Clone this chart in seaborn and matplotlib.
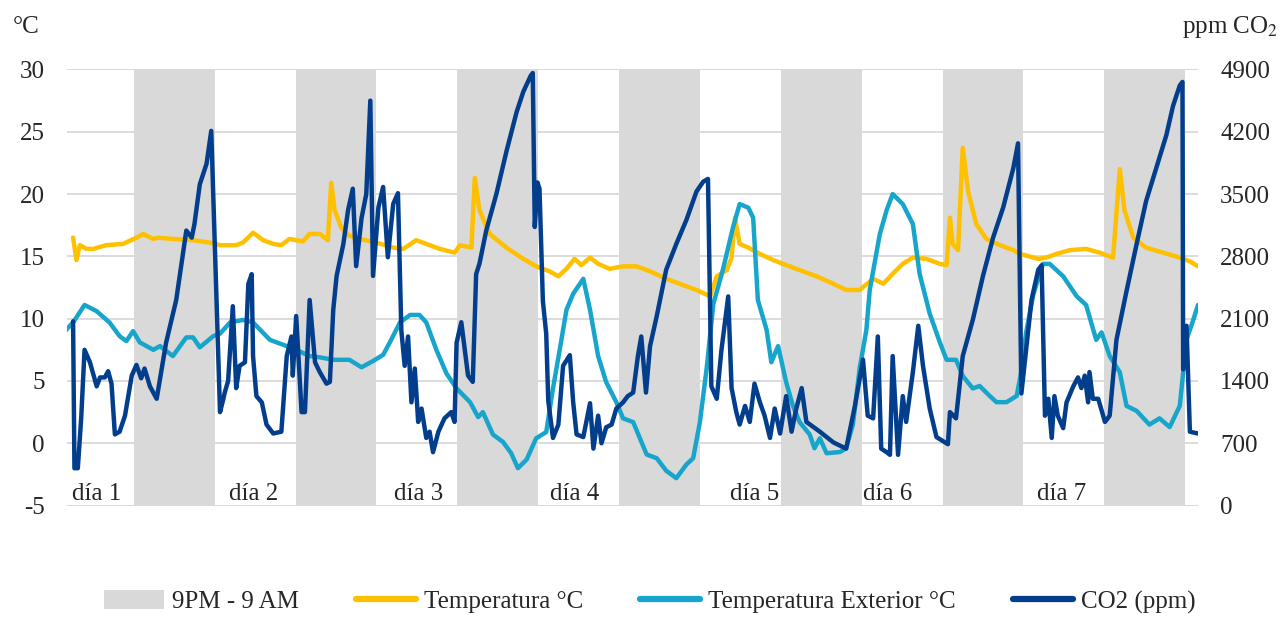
import matplotlib
matplotlib.use('Agg')
import matplotlib.pyplot as plt
import seaborn as sns
from matplotlib.patches import Patch
from matplotlib.lines import Line2D

# hours counted from 21:00 of day 1 (start of the first night band)
temp_hours = [-9.0, -8.5, -8.0, -7.0, -6.0, -4.1, -1.6, 0.4, 1.4, 2.9, 3.6, 5.8, 8.8, 11.3,
              12.8, 15.2, 16.2, 17.7, 19.2, 20.7, 21.9, 23.1, 25.1, 26.1, 27.6, 28.8, 29.3, 29.8,
              30.8, 31.8, 33.5, 36.0, 38.5, 40.0, 41.9, 43.9, 45.4, 47.6, 48.4, 50.1, 50.6, 51.3,
              52.8, 55.3, 57.8, 59.7, 61.7, 63.0, 64.2, 65.4, 66.4, 67.7, 68.9, 70.6, 72.6, 74.6,
              76.6, 79.0, 81.5, 83.5, 85.5, 86.5, 88.0, 88.7, 89.2, 89.9, 91.2, 92.9, 94.9, 96.8,
              98.8, 101.3, 103.8, 105.7, 107.7, 109.7, 111.2, 112.6, 114.1, 115.6, 117.6, 119.6,
              120.6, 121.1, 121.5, 122.3, 123.0, 123.8, 125.0, 126.5, 128.5, 130.5, 131.5, 134.2,
              135.4, 136.9, 138.9, 141.3, 143.3, 145.3, 146.3, 147.0, 148.3, 150.2, 152.7, 155.2,
              156.7, 157.9]
temp_vals = [16.5, 14.7, 15.9, 15.6, 15.6, 15.9, 16.0, 16.5, 16.8, 16.4, 16.5, 16.4, 16.3, 16.1,
             15.9, 15.9, 16.1, 16.9, 16.3, 16.0, 15.9, 16.4, 16.2, 16.8, 16.8, 16.3, 20.9, 18.7,
             17.3, 16.7, 16.4, 16.1, 15.7, 15.6, 16.3, 15.9, 15.6, 15.3, 15.9, 15.7, 21.3, 18.7,
             16.8, 15.7, 14.8, 14.2, 13.8, 13.4, 14.0, 14.8, 14.3, 14.9, 14.4, 14.0, 14.2, 14.2,
             13.8, 13.2, 12.7, 12.3, 11.8, 13.4, 13.9, 14.9, 18.1, 16.0, 15.7, 15.2, 14.7, 14.3,
             13.9, 13.4, 12.8, 12.3, 12.3, 13.2, 12.8, 13.6, 14.4, 14.9, 14.8, 14.4,
             14.3, 18.1, 16.0, 15.5, 23.7, 20.2, 17.6, 16.4, 15.9, 15.5, 15.2, 14.8,
             14.9, 15.2, 15.5, 15.6, 15.3, 14.9, 22.0, 18.7, 16.5, 15.7, 15.3, 14.9,
             14.6, 14.2]

ext_hours = [-10.2, -9.0, -7.3, -5.5, -3.6, -2.1, -1.1, -0.1, 0.9, 2.9, 3.9, 5.8, 7.8, 8.8, 9.8,
             11.8, 12.8, 14.3, 16.2, 17.7, 20.2, 22.2, 24.1, 26.1, 27.6, 29.6, 32.0, 33.8, 35.5,
             37.0, 38.0, 39.5, 41.0, 42.4, 43.4, 44.9, 46.4, 47.9, 49.9, 51.1, 51.8, 53.3, 54.8,
             56.0, 57.0, 58.3, 59.7, 61.2, 62.2, 63.2, 64.2, 65.2, 66.7, 67.7, 68.9, 70.1, 71.6,
             72.6, 74.1, 75.1, 76.1, 77.6, 79.0, 80.5, 82.0, 83.0, 84.0, 85.0, 86.0, 87.4, 88.9,
             89.9, 91.2, 91.9, 92.6, 93.9, 94.6, 95.6, 96.8, 97.8, 98.8, 100.3, 101.0, 101.8,
             102.8, 104.8, 105.7, 106.7, 107.7, 108.7, 109.2, 110.7, 111.7, 112.6, 114.1, 115.6,
             116.6, 118.1, 119.6, 120.6, 122.0, 123.0, 124.5, 125.5, 127.0, 128.0, 129.5, 131.0,
             131.6, 132.4, 133.5, 134.9, 135.9, 137.9, 139.9, 141.3, 142.8, 143.6, 144.8, 146.3,
             147.3, 148.8, 150.7, 152.2, 153.7, 155.2, 156.2, 157.2, 157.9]
ext_vals = [9.0, 9.7, 11.1, 10.6, 9.7, 8.6, 8.2, 9.0, 8.1, 7.5, 7.8, 7.0, 8.5, 8.5, 7.7,
            8.6, 8.8, 9.7, 9.9, 9.7, 8.3, 7.9, 7.5, 7.0, 6.9, 6.7, 6.7, 6.1, 6.6,
            7.1, 8.1, 9.7, 10.3, 10.3, 9.7, 7.5, 5.6, 4.4, 3.3, 2.1, 2.5, 0.7, 0.1,
            -0.8, -2.0, -1.3, 0.4, 0.9, 4.4, 7.5, 10.7, 12.0, 13.2, 10.7, 7.0, 4.9, 3.3,
            2.0, 1.7, 0.4, -0.9, -1.2, -2.2, -2.8, -1.7, -1.2, 1.7, 6.0, 11.2, 13.9, 17.3,
            19.2, 18.9, 18.1, 11.5, 9.1, 6.5, 7.8, 4.9, 3.0, 1.7, 0.7, -0.4, 0.4,
            -0.8, -0.7, -0.4, 1.5, 6.0, 9.1, 12.3, 16.8, 18.7, 20.0, 19.2, 17.6,
            13.6, 10.4, 8.1, 6.7, 6.7, 5.4, 4.4, 4.6, 3.8, 3.3, 3.3, 3.8,
            5.5, 8.9, 12.0, 14.4, 14.4, 13.4, 11.8, 11.1, 8.3, 8.9, 7.0, 5.7,
            3.0, 2.6, 1.5, 2.0, 1.3, 3.0, 8.3, 9.9, 11.1]

co2_hours = [-9.0, -8.8, -8.3, -7.8, -7.3, -6.5, -5.5, -5.0, -4.3, -3.8, -3.3, -2.8, -2.1, -1.3,
             -0.3, 0.4, 1.1, 1.6, 2.4, 3.4, 4.8, 6.3, 7.8, 8.6, 9.0, 9.8, 10.8, 11.5, 12.8, 13.3,
             13.5, 14.0, 14.7, 15.2, 15.7, 16.5, 17.0, 17.5, 17.7, 18.2, 19.0, 19.7, 20.7, 21.9,
             22.7, 23.4, 23.6, 24.1, 24.9, 25.4, 26.1, 26.9, 27.6, 28.6, 29.1, 29.6, 30.1, 31.1,
             31.8, 32.5, 33.0, 33.8, 34.5, 35.1, 35.5, 36.3, 37.0,
             37.7, 38.5, 39.2, 39.7, 40.2, 40.7, 41.2, 41.7, 42.2, 42.7, 43.4, 43.9, 44.4, 45.2,
             46.1, 47.1, 47.6, 47.9, 48.6, 49.6, 50.3, 50.8, 51.3, 52.3, 53.8, 55.3, 56.8, 57.8,
             58.9, 59.2, 59.5, 59.9, 60.2, 60.7, 61.2, 61.5, 62.2,
             63.0, 63.7, 64.7, 65.2, 65.7, 66.7, 67.7, 68.2, 68.9, 69.4, 70.1, 70.9, 71.6, 72.6,
             73.3, 74.1, 74.8, 75.3, 76.0, 76.6, 77.6, 79.0, 80.5, 82.0, 83.5, 84.5, 85.2,
             85.7, 86.5, 87.2, 88.2, 88.7, 89.4, 89.9, 90.7, 91.4, 92.1, 92.9, 93.6, 94.4, 95.1,
             95.9, 96.8, 97.6, 98.3, 99.1, 99.8, 101.8, 103.8, 105.7, 107.0, 108.2,
             108.9, 109.7, 110.4, 110.9, 111.7, 112.2, 112.6, 113.4, 114.1, 114.6, 115.6, 116.4,
             117.1, 118.1, 119.1, 120.8, 121.1, 122.0, 123.0, 124.5, 126.0, 127.5, 129.0, 130.5,
             131.2,
             131.7, 132.5, 133.2, 134.2, 134.7, 135.2, 135.7, 136.2, 136.6, 137.1, 137.9, 138.4,
             139.4, 140.1, 140.6, 141.1, 141.6, 141.8, 142.3, 143.1, 144.1, 144.8, 145.8, 147.3,
             148.8, 150.2, 151.7, 153.2, 154.2, 155.2, 155.6, 155.7, 156.2, 156.7, 157.9]
co2_vals = [2070, 420, 420, 980, 1750, 1610, 1340, 1440, 1440, 1510, 1370, 800, 830, 1010,
            1460, 1580, 1430, 1540, 1340, 1200, 1830, 2310, 3090, 3010, 3160, 3610, 3840, 4210, 1050, 1200,
            1270, 1400, 2240, 1320, 1570, 1610, 2490, 2600, 1680, 1230, 1160, 910, 810, 830,
            1680, 1900, 1460, 2130, 1050, 1050, 2310, 1610, 1500, 1370, 1390, 2200, 2580, 2940,
            3320, 3560, 2690, 3230, 3500, 4550, 2580, 3350, 3580,
            2790, 3390, 3510, 1970, 1570, 1900, 1160, 1540, 940, 1090, 760, 830, 600, 830,
            980, 1050, 940, 1830, 2060, 1460, 1390, 2600, 2720, 3090, 3500, 3980, 4420, 4650,
            4830, 4860, 3130, 3630, 3560, 2300, 1930, 1180, 760,
            910, 1570, 1690, 1160, 800, 770, 1150, 640, 1010, 700, 880, 910, 1090, 1160,
            1230, 1270, 1680, 1900, 1270, 1790, 2130, 2650, 2940, 3210, 3530, 3640, 3670,
            1340, 1200, 1750, 2350, 1320, 1050, 910, 1120, 940, 1370, 1160, 1010, 760, 1090,
            810, 1230, 830, 1090, 1320, 940, 830, 710, 640, 1120, 1640,
            1010, 980, 1900, 640, 600, 570, 1680, 570, 1230, 940, 1500, 2020,
            1570, 1090, 770, 690, 1050, 980, 1680, 2090, 2580, 3010, 3350, 3790,
            4070,
            1260, 1820, 2310, 2650, 2700, 1010, 1200, 760, 1230, 1010, 870, 1160,
            1340, 1440, 1320, 1460, 1160, 1500, 1200, 1200, 940, 1010, 1860, 2410,
            2940, 3420, 3790, 4160, 4490, 4720, 4760, 1530, 2020, 830, 810]

night_starts = [0, 24, 48, 72, 96, 120, 144]   # 9PM, each night lasts 12 h
day_labels = ['día 1', 'día 2', 'día 3', 'día 4', 'día 5', 'día 6', 'día 7']
day_label_hours = [-9.2, 14.2, 38.6, 61.7, 88.4, 108.2, 134.0]

GRAY = '#D9D9D9'
YELLOW = '#FFC000'
LIGHT_BLUE = '#17A5CC'
DARK_BLUE = '#023E8C'

sns.set_style('white')
plt.rcParams['font.family'] = ['Liberation Serif', 'DejaVu Serif']
plt.rcParams['mathtext.fontset'] = 'stix'
plt.rcParams['axes.unicode_minus'] = False

fig = plt.figure(figsize=(12.84, 6.18), dpi=100)
ax = fig.add_axes([0.0522, 0.1819, 0.8808, 0.7057])

# night bands
for s in night_starts:
    ax.axvspan(s, s + 12, color=GRAY, lw=0, zorder=1)

ax.set_axisbelow(True)
ax.grid(axis='y', color=GRAY, lw=1.3)
ax.grid(axis='x', visible=False)

sns.lineplot(x=temp_hours, y=temp_vals, ax=ax, color=YELLOW, lw=3.2,
             estimator=None, sort=False, zorder=3)
sns.lineplot(x=ext_hours, y=ext_vals, ax=ax, color=LIGHT_BLUE, lw=3.2,
             estimator=None, sort=False, zorder=3)

ax2 = ax.twinx()
sns.lineplot(x=co2_hours, y=co2_vals, ax=ax2, color=DARK_BLUE, lw=3.2,
             estimator=None, sort=False, zorder=3)

ax.set_xlim(-9.9, 157.9)
ax.set_ylim(-5, 30)
ax2.set_ylim(0, 4900)
ax.set_yticks(range(-5, 31, 5))
ax2.set_yticks(range(0, 4901, 700))
ax.set_xticks([])
ax.tick_params(axis='y', length=0, pad=16, labelsize=18)
ax2.tick_params(axis='y', length=0, pad=16, labelsize=18)
for a in (ax, ax2):
    a.set_xlabel('')
    a.set_ylabel('')
    for sp in a.spines.values():
        sp.set_visible(False)
ax.axhline(30, color=GRAY, lw=1.3, zorder=1.5)
ax.axhline(-5, color=GRAY, lw=1.3, zorder=1.5)

for h, lab in zip(day_label_hours, day_labels):
    ax.text(h, -4.55, lab, fontsize=18, ha='left', va='baseline', zorder=4)

fig.text(13 / 1284, 1 - 33 / 618, '°C', fontsize=18, ha='left', va='baseline')
fig.text(1278 / 1284, 1 - 33 / 618, 'ppm CO$_2$', fontsize=18, ha='right', va='baseline')

handles = [Patch(facecolor=GRAY, edgecolor='none'),
           Line2D([], [], color=YELLOW, lw=4.5),
           Line2D([], [], color=LIGHT_BLUE, lw=4.5),
           Line2D([], [], color=DARK_BLUE, lw=4.5)]
labels = ['9PM - 9 AM', 'Temperatura °C', 'Temperatura Exterior °C', 'CO2 (ppm)']
fig.legend(handles, labels, loc='center', bbox_to_anchor=(0.506, 0.026), ncol=4,
           frameon=False, fontsize=18, handlelength=2.4, handleheight=0.8,
           columnspacing=2.3, handletextpad=0.3)

fig.savefig('out.png', dpi=100)
